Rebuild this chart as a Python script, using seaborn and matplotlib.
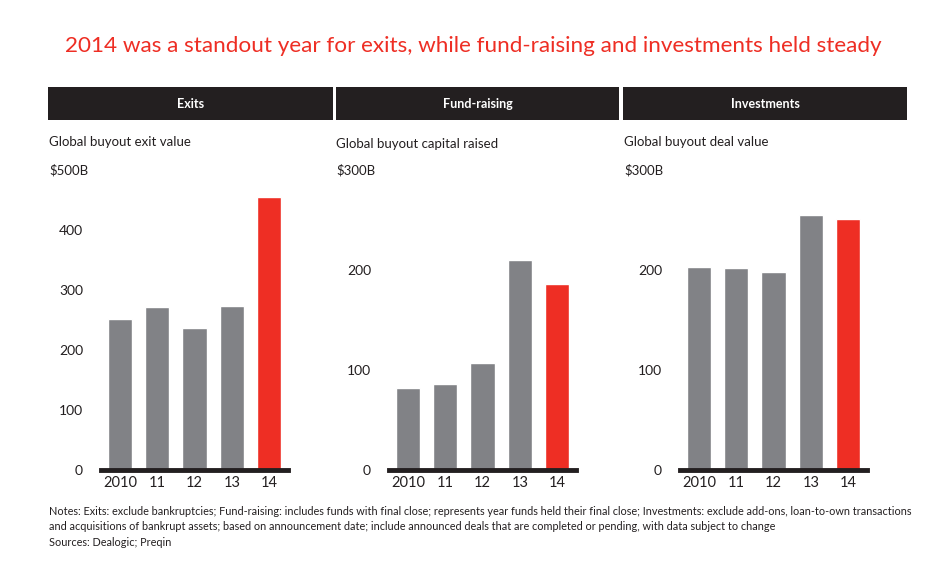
import matplotlib
matplotlib.use("Agg")
import matplotlib.pyplot as plt
import pandas as pd
import seaborn as sns

years = ["2010", "11", "12", "13", "14"]
exits = [252, 272, 237, 273, 455]
fundraising = [82, 86, 107, 210, 186]
investments = [203, 202, 198, 255, 251]

headers = ["Exits", "Fund-raising", "Investments"]
subtitles = ["Global buyout exit value", "Global buyout capital raised", "Global buyout deal value"]
unit_labels = ["$500B", "$300B", "$300B"]
y_max = [500, 300, 300]
y_ticks = [[0, 100, 200, 300, 400], [0, 100, 200], [0, 100, 200]]

GRAY = "#818286"
RED = "#ee2e24"
BLACK = "#231f20"
palette = [GRAY, GRAY, GRAY, GRAY, RED]

sns.set_theme(style="white")
plt.rcParams["font.family"] = ["Lato", "DejaVu Sans"]

W, H = 950, 576
fig = plt.figure(figsize=(W / 100, H / 100), dpi=100)


def fx(px):
    return px / W


def fy(py):
    return 1 - py / H


fig.text(fx(473), fy(46), "2014 was a standout year for exits, while fund-raising and investments held steady",
         color=RED, fontsize=16.2, ha="center", va="center")

header_x = [(48, 333), (336, 619), (623, 907)]
axes_x = [101, 389, 680]
sub_y = [142, 144, 142]
text_x = [49, 336, 624]

for i, vals in enumerate([exits, fundraising, investments]):
    # black header band
    x0, x1 = header_x[i]
    hax = fig.add_axes([fx(x0), fy(120), fx(x1 - x0), 33 / H])
    hax.set_facecolor(BLACK)
    hax.set_xticks([])
    hax.set_yticks([])
    for s in hax.spines.values():
        s.set_visible(False)
    hax.text(0.5, 0.5, headers[i], color="white", fontsize=9, fontweight="bold",
             ha="center", va="center", transform=hax.transAxes)

    fig.text(fx(text_x[i]), fy(sub_y[i]), subtitles[i], fontsize=9.5, color=BLACK, va="center")
    fig.text(fx(text_x[i]), fy(170), unit_labels[i], fontsize=9.5, color=BLACK, va="center")

    ax = fig.add_axes([fx(axes_x[i]), fy(470), fx(187), 300 / H])
    df = pd.DataFrame({"year": years, "value": vals})
    sns.barplot(data=df, x="year", y="value", hue="year", palette=palette,
                legend=False, width=0.65, saturation=1, ax=ax)
    ax.set_xlim(-0.51, 4.51)
    ax.set_ylim(0, y_max[i])
    ax.set_yticks(y_ticks[i])
    ax.set_xlabel("")
    ax.set_ylabel("")
    ax.tick_params(axis="both", length=0, labelsize=10, colors=BLACK)
    ax.tick_params(axis="x", labelsize=10.5)
    ax.tick_params(axis="y", pad=13)
    ax.tick_params(axis="x", pad=4)
    for s in ["top", "right", "left"]:
        ax.spines[s].set_visible(False)
    ax.spines["bottom"].set_color(BLACK)
    ax.spines["bottom"].set_linewidth(3.5)
    ax.set_facecolor("none")

notes = ("Notes: Exits: exclude bankruptcies; Fund-raising: includes funds with final close; represents year funds held their final close; "
         "Investments: exclude add-ons, loan-to-own transactions\n"
         "and acquisitions of bankrupt assets; based on announcement date; include announced deals that are completed or pending, "
         "with data subject to change\n"
         "Sources: Dealogic; Preqin")
fig.text(fx(49), fy(506), notes, fontsize=7.8, color=BLACK, va="top", linespacing=1.5)

fig.savefig("out.png", dpi=100)
